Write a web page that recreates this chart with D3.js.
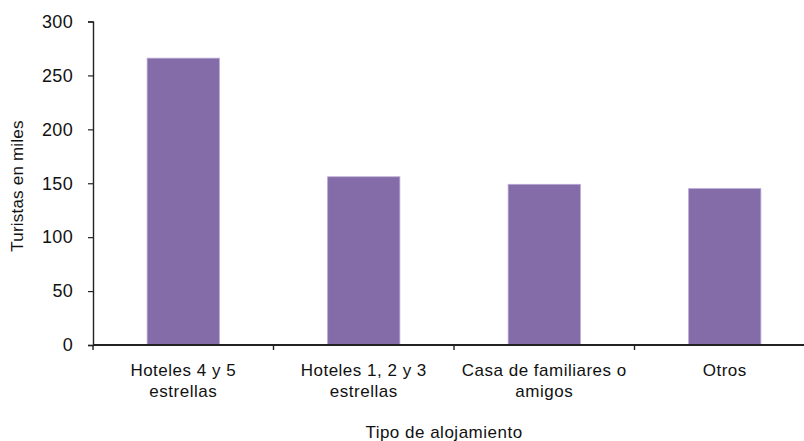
<!DOCTYPE html>
<html><head><meta charset="utf-8">
<script src="https://cdn.jsdelivr.net/npm/d3@7"></script>
<style>body{margin:0;background:#fff}svg{display:block}text{font-family:"Liberation Sans",Arial,Helvetica,sans-serif;fill:#111}</style>
</head><body>
<svg id="c" width="804" height="441"></svg>
<script>
const categories = [["Hoteles 4 y 5","estrellas"],["Hoteles 1, 2 y 3","estrellas"],["Casa de familiares o","amigos"],["Otros"]];
const values = [266, 156, 149, 145];
const yTicks = [0, 50, 100, 150, 200, 250, 300];
const yTitle = "Turistas en miles";
const xTitle = "Tipo de alojamiento";

const svg = d3.select("#c");
const x0 = 93, x1 = 815, yTop = 21.5, yBot = 345;
const keys = categories.map((c,i)=>i);
const x = d3.scaleBand().domain(keys).range([x0, x1]).paddingInner(0.6).paddingOuter(0.3);
const y = d3.scaleLinear().domain([0, 300]).range([yBot, yTop]);
const fs = 17;

svg.selectAll("rect.bar").data(values).join("rect").attr("class","bar")
  .attr("x",(d,i)=>x(i)).attr("width",x.bandwidth())
  .attr("y",d=>y(d)).attr("height",d=>yBot-y(d))
  .attr("fill","#836ca8").attr("stroke","#b7a6d3").attr("stroke-width",0.8);

// y axis
const ya = svg.append("g").attr("transform",`translate(${x0},0)`)
  .call(d3.axisLeft(y).tickValues(yTicks).tickSize(5).tickPadding(15).tickFormat(d3.format("d")));
ya.select(".domain").attr("stroke","#222").attr("stroke-width",1.4);
ya.selectAll(".tick line").attr("stroke","#222").attr("stroke-width",1.2);
ya.selectAll(".tick text").style("font-size","18px").style("letter-spacing","0.3px").attr("fill","#111");

// x axis line
svg.append("line").attr("x1",x0).attr("x2",x1).attr("y1",yBot).attr("y2",yBot).attr("stroke","#222").attr("stroke-width",2);
const off = (x.step()-x.bandwidth())/2;
const bounds = keys.map(i=>x(i)-off).concat([x(keys.length-1)+x.bandwidth()+off]);
svg.selectAll("line.xt").data(bounds).join("line").attr("class","xt")
  .attr("x1",d=>d).attr("x2",d=>d).attr("y1",yBot).attr("y2",yBot+5).attr("stroke","#222").attr("stroke-width",1.4);

// category labels
const cl = svg.selectAll("text.cat").data(categories).join("text").attr("class","cat")
  .attr("text-anchor","middle").style("font-size",fs+"px").style("letter-spacing","0.5px")
  .attr("transform",(d,i)=>`translate(${x(i)+x.bandwidth()/2},376)`);
cl.selectAll("tspan").data(d=>d).join("tspan").attr("x",0).attr("dy",(d,j)=>j?20.5:0).text(d=>d);

svg.append("text").attr("x",444).attr("y",438).attr("text-anchor","middle").style("font-size",fs+"px").style("letter-spacing","0.5px").text(xTitle);
svg.append("text").attr("transform","translate(23,186) rotate(-90)").attr("text-anchor","middle").style("font-size",fs+"px").style("letter-spacing","0.2px").text(yTitle);
</script>
</body></html>
